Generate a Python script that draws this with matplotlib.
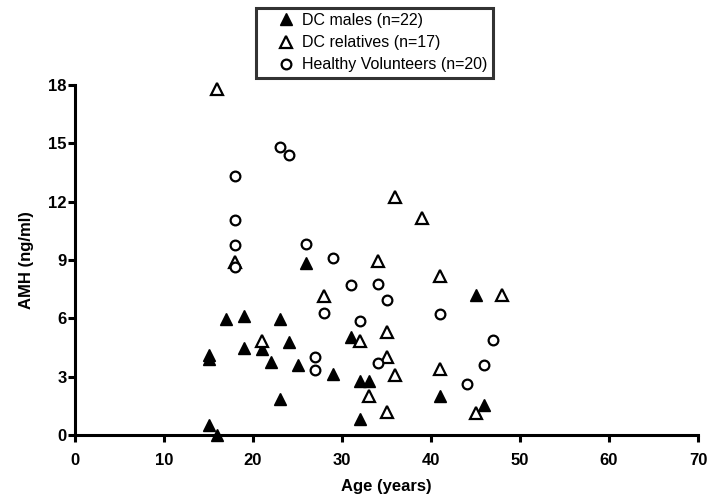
import matplotlib
matplotlib.use("Agg")
import matplotlib.pyplot as plt

plt.rcParams['font.family'] = ['Liberation Sans', 'DejaVu Sans']

# DC males (filled triangles)
males_age = [15, 15, 15, 16, 17, 19, 19, 21, 22, 23, 23, 24, 25, 26, 29, 31, 32, 33, 32, 41, 45, 46]
males_amh = [4.1, 3.9, 0.5, 0.0, 5.95, 6.1, 4.45, 4.4, 3.75, 5.95, 1.85, 4.8, 3.6, 8.85, 3.15, 5.05, 2.8, 2.8, 0.8, 2.0, 7.2, 1.55]

# DC relatives (open triangles)
rel_age = [16, 18, 21, 28, 32, 33, 34, 35, 35, 35, 36, 36, 39, 41, 41, 45, 48]
rel_amh = [17.8, 8.9, 4.85, 7.15, 4.85, 2.0, 8.95, 5.3, 4.0, 1.2, 12.25, 3.1, 11.15, 8.2, 3.4, 1.15, 7.2]

# Healthy volunteers (open circles)
hv_age = [18, 18, 18, 18, 23, 24, 26, 27, 27, 28, 29, 31, 32, 34, 34, 35, 41, 44, 46, 47]
hv_amh = [13.3, 11.05, 9.75, 8.65, 14.8, 14.4, 9.8, 4.0, 3.35, 6.3, 9.1, 7.7, 5.85, 7.75, 3.7, 6.95, 6.2, 2.6, 3.6, 4.9]

labels = ["DC males (n=22)", "DC relatives (n=17)", "Healthy Volunteers (n=20)"]
x_ticks = [0, 10, 20, 30, 40, 50, 60, 70]
y_ticks = [0, 3, 6, 9, 12, 15, 18]

fig = plt.figure(figsize=(7.09, 5.00), dpi=100)
ax = fig.add_axes([0.1058, 0.13, 0.8787, 0.70])

ax.plot(males_age, males_amh, linestyle='none', marker='^', markersize=8.5,
        markerfacecolor='black', markeredgecolor='black', markeredgewidth=1.0,
        label=labels[0], clip_on=False)
ax.plot(rel_age, rel_amh, linestyle='none', marker='^', markersize=8,
        markerfacecolor='white', markeredgecolor='black', markeredgewidth=1.6,
        label=labels[1], clip_on=False)
ax.plot(hv_age, hv_amh, linestyle='none', marker='o', markersize=7,
        markerfacecolor='white', markeredgecolor='black', markeredgewidth=1.6,
        label=labels[2], clip_on=False)

ax.set_xlim(0, 70)
ax.set_ylim(0, 18)
ax.set_xticks(x_ticks)
ax.set_yticks(y_ticks)
for s in ['top', 'right']:
    ax.spines[s].set_visible(False)
for s in ['left', 'bottom']:
    ax.spines[s].set_linewidth(2.2)
ax.tick_params(axis='both', direction='out', length=5, width=2.2, labelsize=12)
ax.tick_params(axis='x', pad=8)
ax.tick_params(axis='y', pad=1)
for lab in ax.get_xticklabels() + ax.get_yticklabels():
    lab.set_fontweight('bold')

ax.set_xlabel("Age (years)", fontsize=12, fontweight='bold', labelpad=8)
ax.set_ylabel("AMH (ng/ml)", fontsize=12, fontweight='bold', labelpad=10)

leg = fig.legend(loc='upper center', bbox_to_anchor=(0.528, 0.985), fontsize=11.5,
                 frameon=True, fancybox=False, handlelength=3.1, handletextpad=-0.6,
                 borderpad=0.35, labelspacing=0.45, borderaxespad=0.0)
leg.get_frame().set_edgecolor('black')
leg.get_frame().set_linewidth(2.2)

fig.savefig("out.png", dpi=100)
